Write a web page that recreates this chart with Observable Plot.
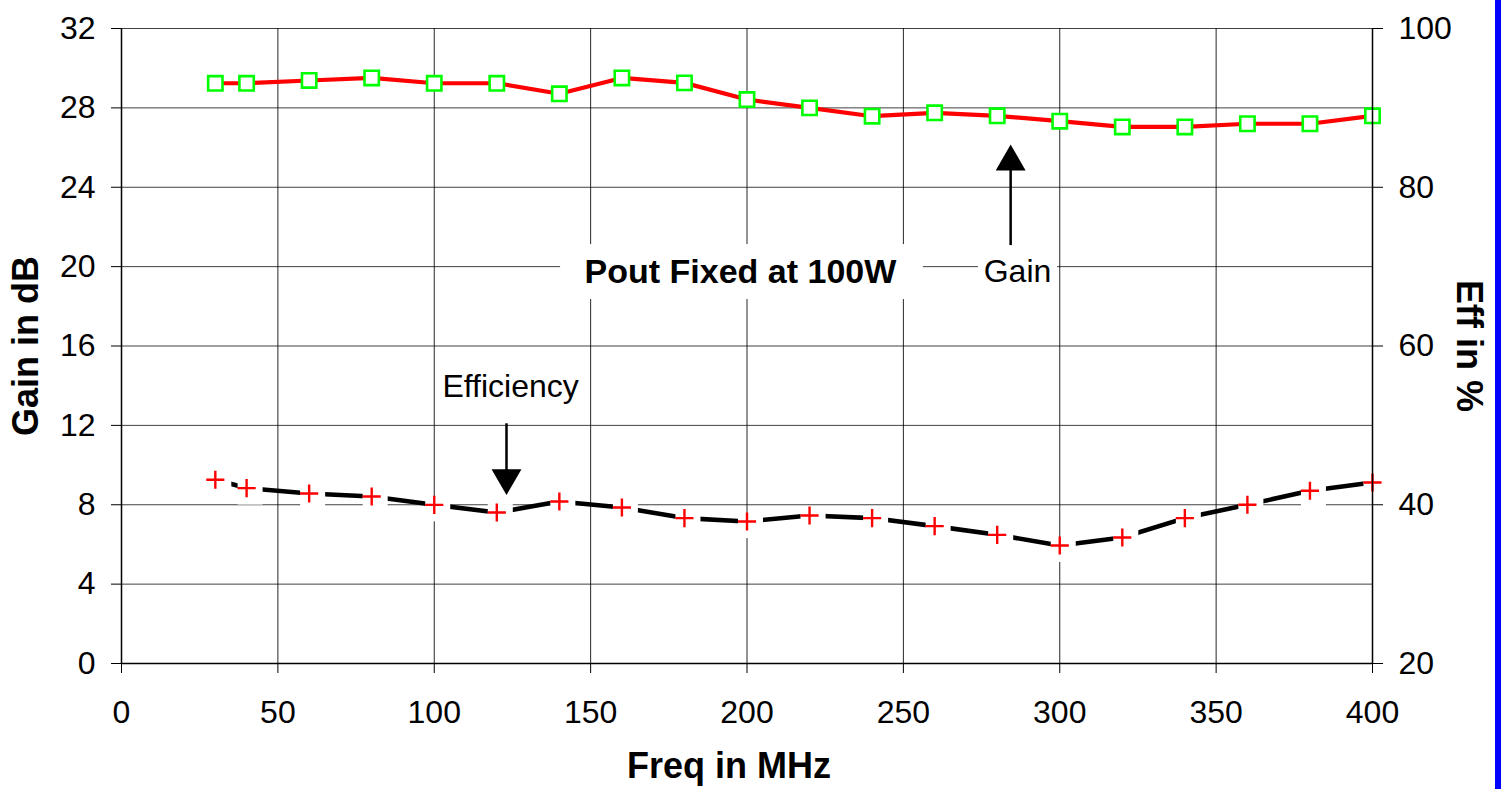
<!DOCTYPE html>
<html>
<head>
<meta charset="utf-8">
<script src="https://cdn.jsdelivr.net/npm/d3@7"></script>
<script src="https://cdn.jsdelivr.net/npm/@observablehq/plot@0.6"></script>
<style>
  html, body { margin: 0; padding: 0; background: #fff; }
  #wrap { position: relative; width: 1502px; height: 789px; overflow: hidden; }
  #bar { position: absolute; left: 1495px; top: 0; width: 6px; height: 789px; background: #0000ff; }
</style>
</head>
<body>
<div id="wrap"><div id="chart"></div><div id="bar"></div></div>
<script>
// ---- data ----
const freqMHz = [30, 40, 60, 80, 100, 120, 140, 160, 180, 200, 220, 240, 260, 280, 300, 320, 340, 360, 380, 400];
const gainDb  = [29.24, 29.24, 29.38, 29.51, 29.24, 29.24, 28.71, 29.51, 29.26, 28.42, 28.0, 27.58, 27.75, 27.6, 27.33, 27.04, 27.04, 27.2, 27.2, 27.6];
const effPct  = [43.15, 42.1, 41.42, 41.04, 39.99, 39.02, 40.41, 39.65, 38.32, 37.89, 38.65, 38.32, 37.31, 36.21, 34.87, 35.87, 38.32, 40.0, 41.76, 42.8];

const xTicks = [0, 50, 100, 150, 200, 250, 300, 350, 400];
const gainTicks = [0, 4, 8, 12, 16, 20, 24, 28, 32];
const effTicks = [20, 40, 60, 80, 100];
const effDomain = [20, 100];
const gainDomain = [0, 32];

// annotations (data coordinates)
const noteTexts = [
  {text: "Pout Fixed at 100W", freq: 197.9, gain: 19.72, bold: true},
  {text: "Gain", freq: 286.5, gain: 19.74, bold: false},
  {text: "Efficiency", freq: 124.4, gain: 13.95, bold: false}
];
const noteBoxes = [
  {f1: 140.4, f2: 256.4, g1: 18.34, g2: 21.11},
  {f1: 274.0, f2: 299.3, g1: 18.54, g2: 20.81}
];
const arrowShafts = [
  {freq: 284.3, g1: 21.06, g2: 25.6},
  {freq: 123.1, g1: 12.08, g2: 9.6}
];
const arrowHeads = [
  {freq: 284.3, gain: 25.28, dir: 0},
  {freq: 123.1, gain: 9.36, dir: 180}
];

// map efficiency onto the gain (left) scale
const effToGain = e => (e - effDomain[0]) * (gainDomain[1] - gainDomain[0]) / (effDomain[1] - effDomain[0]) + gainDomain[0];

const rows = freqMHz.map((f, i) => ({freq: f, gain: gainDb[i], eff: effPct[i], effG: effToGain(effPct[i])}));

const font = "'Liberation Sans', Arial, Helvetica, sans-serif";

const chart = Plot.plot({
  width: 1502,
  height: 789,
  marginLeft: 121,
  marginRight: 130,
  marginTop: 28,
  marginBottom: 126,
  x: {domain: [0, 400]},
  y: {domain: gainDomain},
  style: {fontFamily: font, background: "#fff", color: "#000", overflow: "visible"},
  marks: [
    Plot.gridY(gainTicks, {stroke: "#000", strokeOpacity: 0.75, strokeWidth: 1}),
    Plot.gridX(xTicks, {stroke: "#000", strokeOpacity: 0.85, strokeWidth: 1}),
    Plot.rect(noteBoxes, {x1: "f1", x2: "f2", y1: "g1", y2: "g2", fill: "#fff"}),
    // gain series
    Plot.line(rows, {x: "freq", y: "gain", stroke: "#ff0000", strokeWidth: 4.2}),
    Plot.dot(rows, {x: "freq", y: "gain", symbol: "square", r: 8.1, fill: "#fff", stroke: "#00ff00", strokeWidth: 2.6}),
    // efficiency series
    Plot.line(rows, {x: "freq", y: "effG", stroke: "#000", strokeWidth: 4.6}),
    Plot.dot(rows, {x: "freq", y: "effG", symbol: "square", r: 14.1, fill: "#fff", stroke: "none", dx: 3.5, dy: 4}),
    Plot.dot(rows, {x: "freq", y: "effG", symbol: "plus", r: 5.9, stroke: "#ff0000", strokeWidth: 2.4}),
    // axis lines
    Plot.ruleX([0, 400], {stroke: "#000", strokeWidth: 1.5}),
    Plot.ruleY([0], {stroke: "#000", strokeWidth: 1.5}),
    // axes
    Plot.axisX({ticks: xTicks, tickSize: 10, tickPadding: 27, fontSize: 32, label: null, stroke: "#000"}),
    Plot.axisY({anchor: "left", ticks: gainTicks, tickSize: 10, tickPadding: 16, fontSize: 32, label: null}),
    Plot.axisY({anchor: "right", ticks: effTicks.map(effToGain), tickFormat: (d, i) => effTicks[i], tickSize: 10, tickPadding: 16, fontSize: 32, label: null}),
    // axis titles
    Plot.text(["Freq in MHz"], {text: d => d, frameAnchor: "bottom", textAnchor: "middle", dx: -18, dy: 114, fontSize: 36, fontWeight: "bold"}),
    Plot.text(["Gain in dB"], {text: d => d, frameAnchor: "left", textAnchor: "middle", dx: -95, rotate: -90, fontSize: 36, fontWeight: "bold"}),
    Plot.text(["Eff in %"], {text: d => d, frameAnchor: "right", textAnchor: "middle", dx: 96, rotate: 90, fontSize: 36, fontWeight: "bold"}),
    // annotations
    Plot.text(noteTexts.filter(d => d.bold), {x: "freq", y: "gain", text: "text", fontSize: 34, fontWeight: "bold"}),
    Plot.text(noteTexts.filter(d => !d.bold), {x: "freq", y: "gain", text: "text", fontSize: 32}),
    Plot.ruleX(arrowShafts, {x: "freq", y1: "g1", y2: "g2", stroke: "#000", strokeWidth: 2.5}),
    Plot.dot(arrowHeads, {x: "freq", y: "gain", symbol: "triangle", r: 11.1, fill: "#000", stroke: "none", rotate: "dir"})
  ]
});
document.getElementById("chart").appendChild(chart);
</script>
</body>
</html>
